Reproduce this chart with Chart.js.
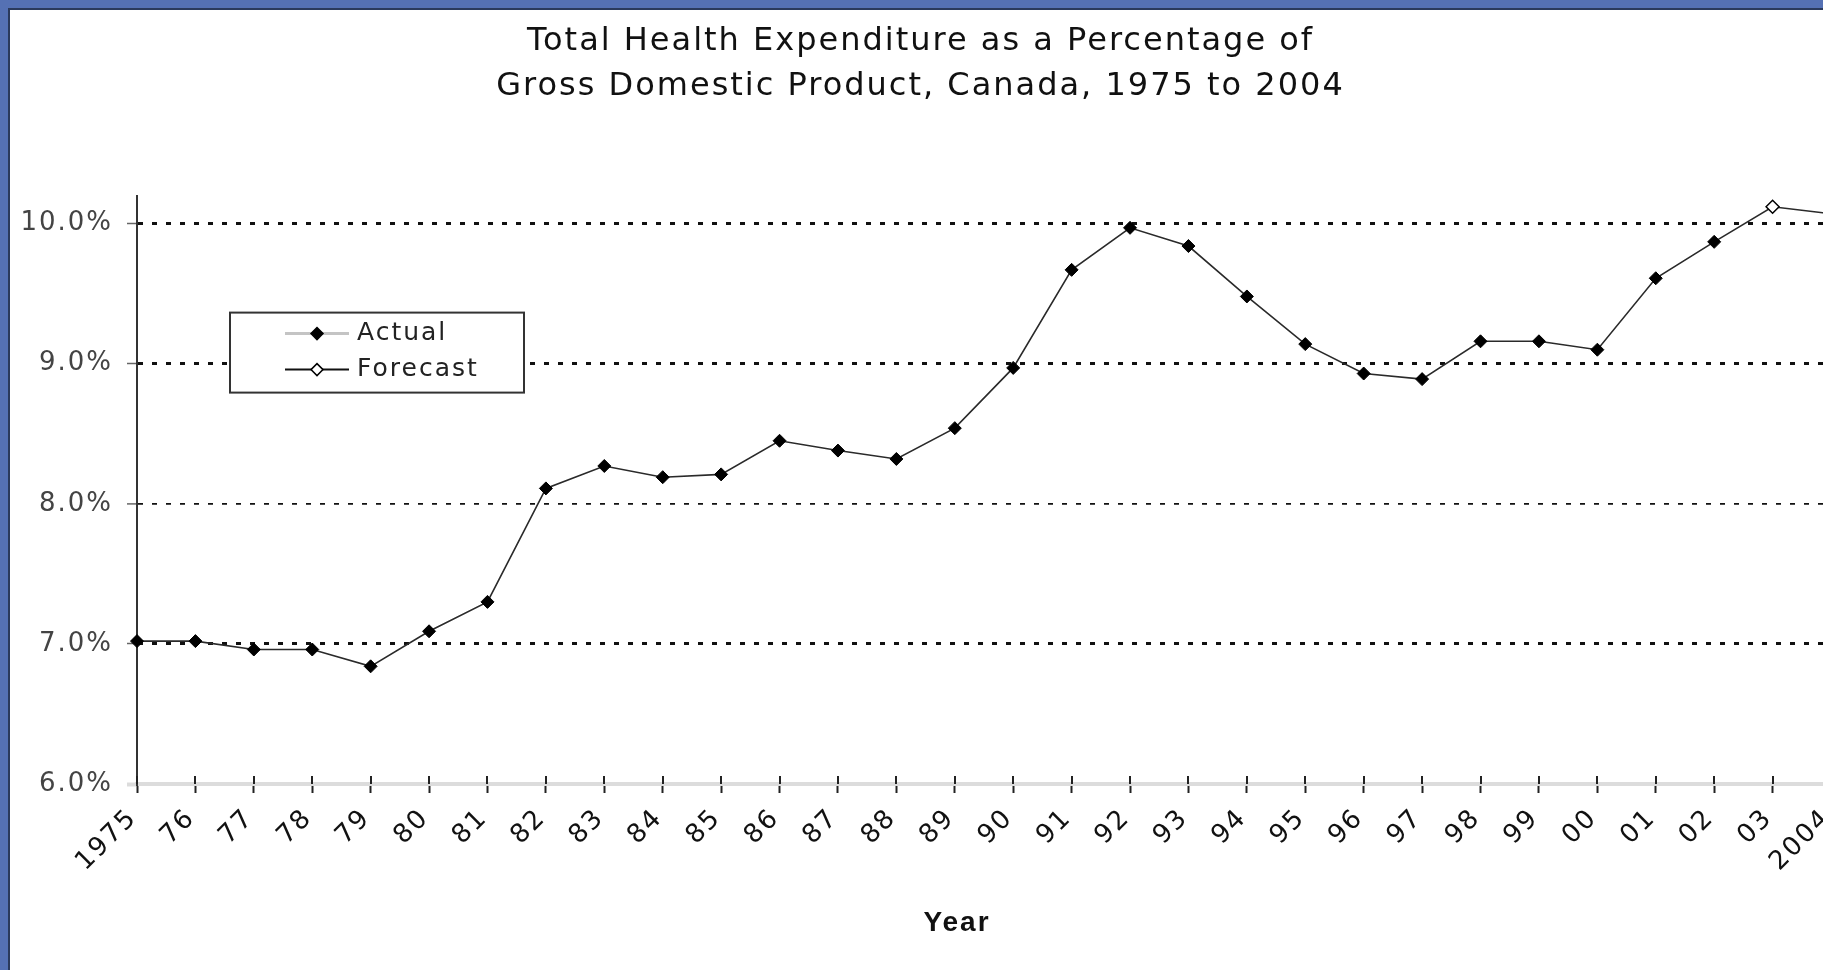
<!DOCTYPE html>
<html><head><meta charset="utf-8">
<script src="https://cdn.jsdelivr.net/npm/chart.js@4.4.0/dist/chart.umd.min.js"></script>
<style>
html,body{margin:0;padding:0;width:1823px;height:970px;overflow:hidden;background:#5571b4;}
#panel{position:absolute;left:8px;top:8px;width:1900px;height:1000px;background:#fff;border-left:2px solid #2b3a5c;border-top:2px solid #2b3a5c;}
#wrap{position:absolute;left:0;top:0;width:1838px;height:960px;}
</style></head><body>
<div id="panel"><div id="wrap"><canvas id="c" width="1838" height="960"></canvas></div></div>
<script>
const titleLines = ['Total Health Expenditure as a Percentage of', 'Gross Domestic Product, Canada, 1975 to 2004'];
const xAxisTitle = 'Year';
const seriesNames = ['Actual', 'Forecast'];
const years = ['1975','76','77','78','79','80','81','82','83','84','85','86','87','88','89','90','91','92','93','94','95','96','97','98','99','00','01','02','03','2004'];
const actual = [7.02,7.02,6.96,6.96,6.84,7.09,7.30,8.11,8.27,8.19,8.21,8.45,8.38,8.32,8.54,8.97,9.67,9.97,9.84,9.48,9.14,8.93,8.89,9.16,9.16,9.10,9.61,9.87,null,null];
const forecast = [null,null,null,null,null,null,null,null,null,null,null,null,null,null,null,null,null,null,null,null,null,null,null,null,null,null,null,9.87,10.12,10.07];
const yTickValues = [6,7,8,9,10];
const yMin = 6, yMax = 10.2;

const spacing = {
  id: 'spacing',
  beforeLayout(c){ c.ctx.letterSpacing = '2px'; },
  beforeDraw(c){ c.ctx.letterSpacing = '2px'; }
};

const extras = {
  id: 'extras',
  afterDraw(chart){
    const {ctx, chartArea, scales} = chart;
    const x = scales.x;
    ctx.save();
    ctx.strokeStyle = '#222'; ctx.lineWidth = 2;
    x.ticks.forEach((t, i) => {
      const px = Math.round(x.getPixelForTick(i));
      ctx.beginPath(); ctx.moveTo(px, chartArea.bottom - 8); ctx.lineTo(px, chartArea.bottom); ctx.stroke();
    });
    ctx.fillStyle = '#111';
    ctx.font = 'bold 28px "Liberation Sans"';
    ctx.textAlign = 'center'; ctx.textBaseline = 'middle';
    ctx.fillText(xAxisTitle, chartArea.left + 820, chart.height - 47);
    const L = {x: chartArea.left + 93, y: chartArea.top + 117, w: 294, h: 80};
    ctx.fillStyle = '#fff'; ctx.fillRect(L.x, L.y, L.w, L.h);
    ctx.strokeStyle = '#333'; ctx.lineWidth = 2; ctx.strokeRect(L.x, L.y, L.w, L.h);
    const rows = [
      {ds: chart.data.datasets[0], y: L.y + 21, line: '#c4c4c4', lw: 3},
      {ds: chart.data.datasets[1], y: L.y + 57, line: '#111', lw: 2}
    ];
    rows.forEach(r => {
      const x0 = L.x + 55, x1 = L.x + 119, mx = (x0 + x1) / 2;
      ctx.strokeStyle = r.line; ctx.lineWidth = r.lw;
      ctx.beginPath(); ctx.moveTo(x0, r.y); ctx.lineTo(x1, r.y); ctx.stroke();
      const rad = 6;
      ctx.beginPath();
      ctx.moveTo(mx - rad, r.y); ctx.lineTo(mx, r.y - rad); ctx.lineTo(mx + rad, r.y); ctx.lineTo(mx, r.y + rad); ctx.closePath();
      ctx.fillStyle = r.ds.pointBackgroundColor; ctx.fill();
      ctx.strokeStyle = '#000'; ctx.lineWidth = 1.5; ctx.stroke();
      ctx.fillStyle = '#222'; ctx.font = '25px "DejaVu Sans"';
      ctx.textAlign = 'left'; ctx.textBaseline = 'middle';
      ctx.fillText(r.ds.label, L.x + 127, r.y);
    });
    ctx.restore();
  }
};

new Chart(document.getElementById('c'), {
  type: 'line',
  data: {
    labels: years,
    datasets: [
      {label: seriesNames[0], data: actual, borderColor: '#2a2a2a', borderWidth: 1.6,
       pointStyle: 'rectRot', pointRadius: 6.5, pointBackgroundColor: '#000', pointBorderColor: '#000', pointBorderWidth: 1,
       tension: 0, order: 0},
      {label: seriesNames[1], data: forecast, borderColor: '#2a2a2a', borderWidth: 1.6,
       pointStyle: 'rectRot', pointRadius: c => (actual[c.dataIndex] != null ? 0 : 6.5),
       pointBackgroundColor: '#fff', pointBorderColor: '#000', pointBorderWidth: 1.5,
       tension: 0, order: 1}
    ]
  },
  options: {
    responsive: false,
    animation: false,
    devicePixelRatio: 1,
    layout: {padding: {left: 0, right: 17, top: 0, bottom: 0}},
    plugins: {
      legend: {display: false},
      tooltip: {enabled: false},
      title: {display: true, text: titleLines, color: '#111',
        font: {family: 'DejaVu Sans', size: 32, weight: 'normal', lineHeight: 1.4},
        padding: {top: 9, bottom: 87}}
    },
    scales: {
      x: {
        offset: false,
        afterFit: s => { s.height = 186; s.paddingLeft = 0; s.paddingRight = 0; },
        ticks: {color: '#111', font: {family: 'DejaVu Sans', size: 26}, minRotation: 45, maxRotation: 45, autoSkip: false, padding: 10, labelOffset: -4},
        grid: {drawOnChartArea: false, drawTicks: true, tickLength: 9, tickColor: '#222', tickWidth: 2},
        border: {display: true, color: '#dcdcdc', width: 4}
      },
      y: {
        min: yMin, max: yMax,
        afterBuildTicks: s => { s.ticks = yTickValues.map(v => ({value: v})); },
        afterFit: s => { s.width = 127; s.paddingTop = 0; s.paddingBottom = 0; },
        ticks: {callback: v => v.toFixed(1) + '%', color: '#444', font: {family: 'DejaVu Sans', size: 26}, padding: 14},
        grid: {
          color: c => (c.tick && c.tick.value === 6 ? 'rgba(0,0,0,0)' : '#111'),
          lineWidth: c => (c.tick && c.tick.value === 8 ? 1.8 : 3),
          drawTicks: true, tickLength: 10,
          tickColor: c => (c.tick && c.tick.value === 6 ? '#dcdcdc' : '#666'),
          tickWidth: c => (c.tick && c.tick.value === 6 ? 4 : 1.5)
        },
        border: {display: true, color: '#333', width: 2, dash: [5, 9]}
      }
    }
  },
  plugins: [spacing, extras]
});
</script>
</body></html>
